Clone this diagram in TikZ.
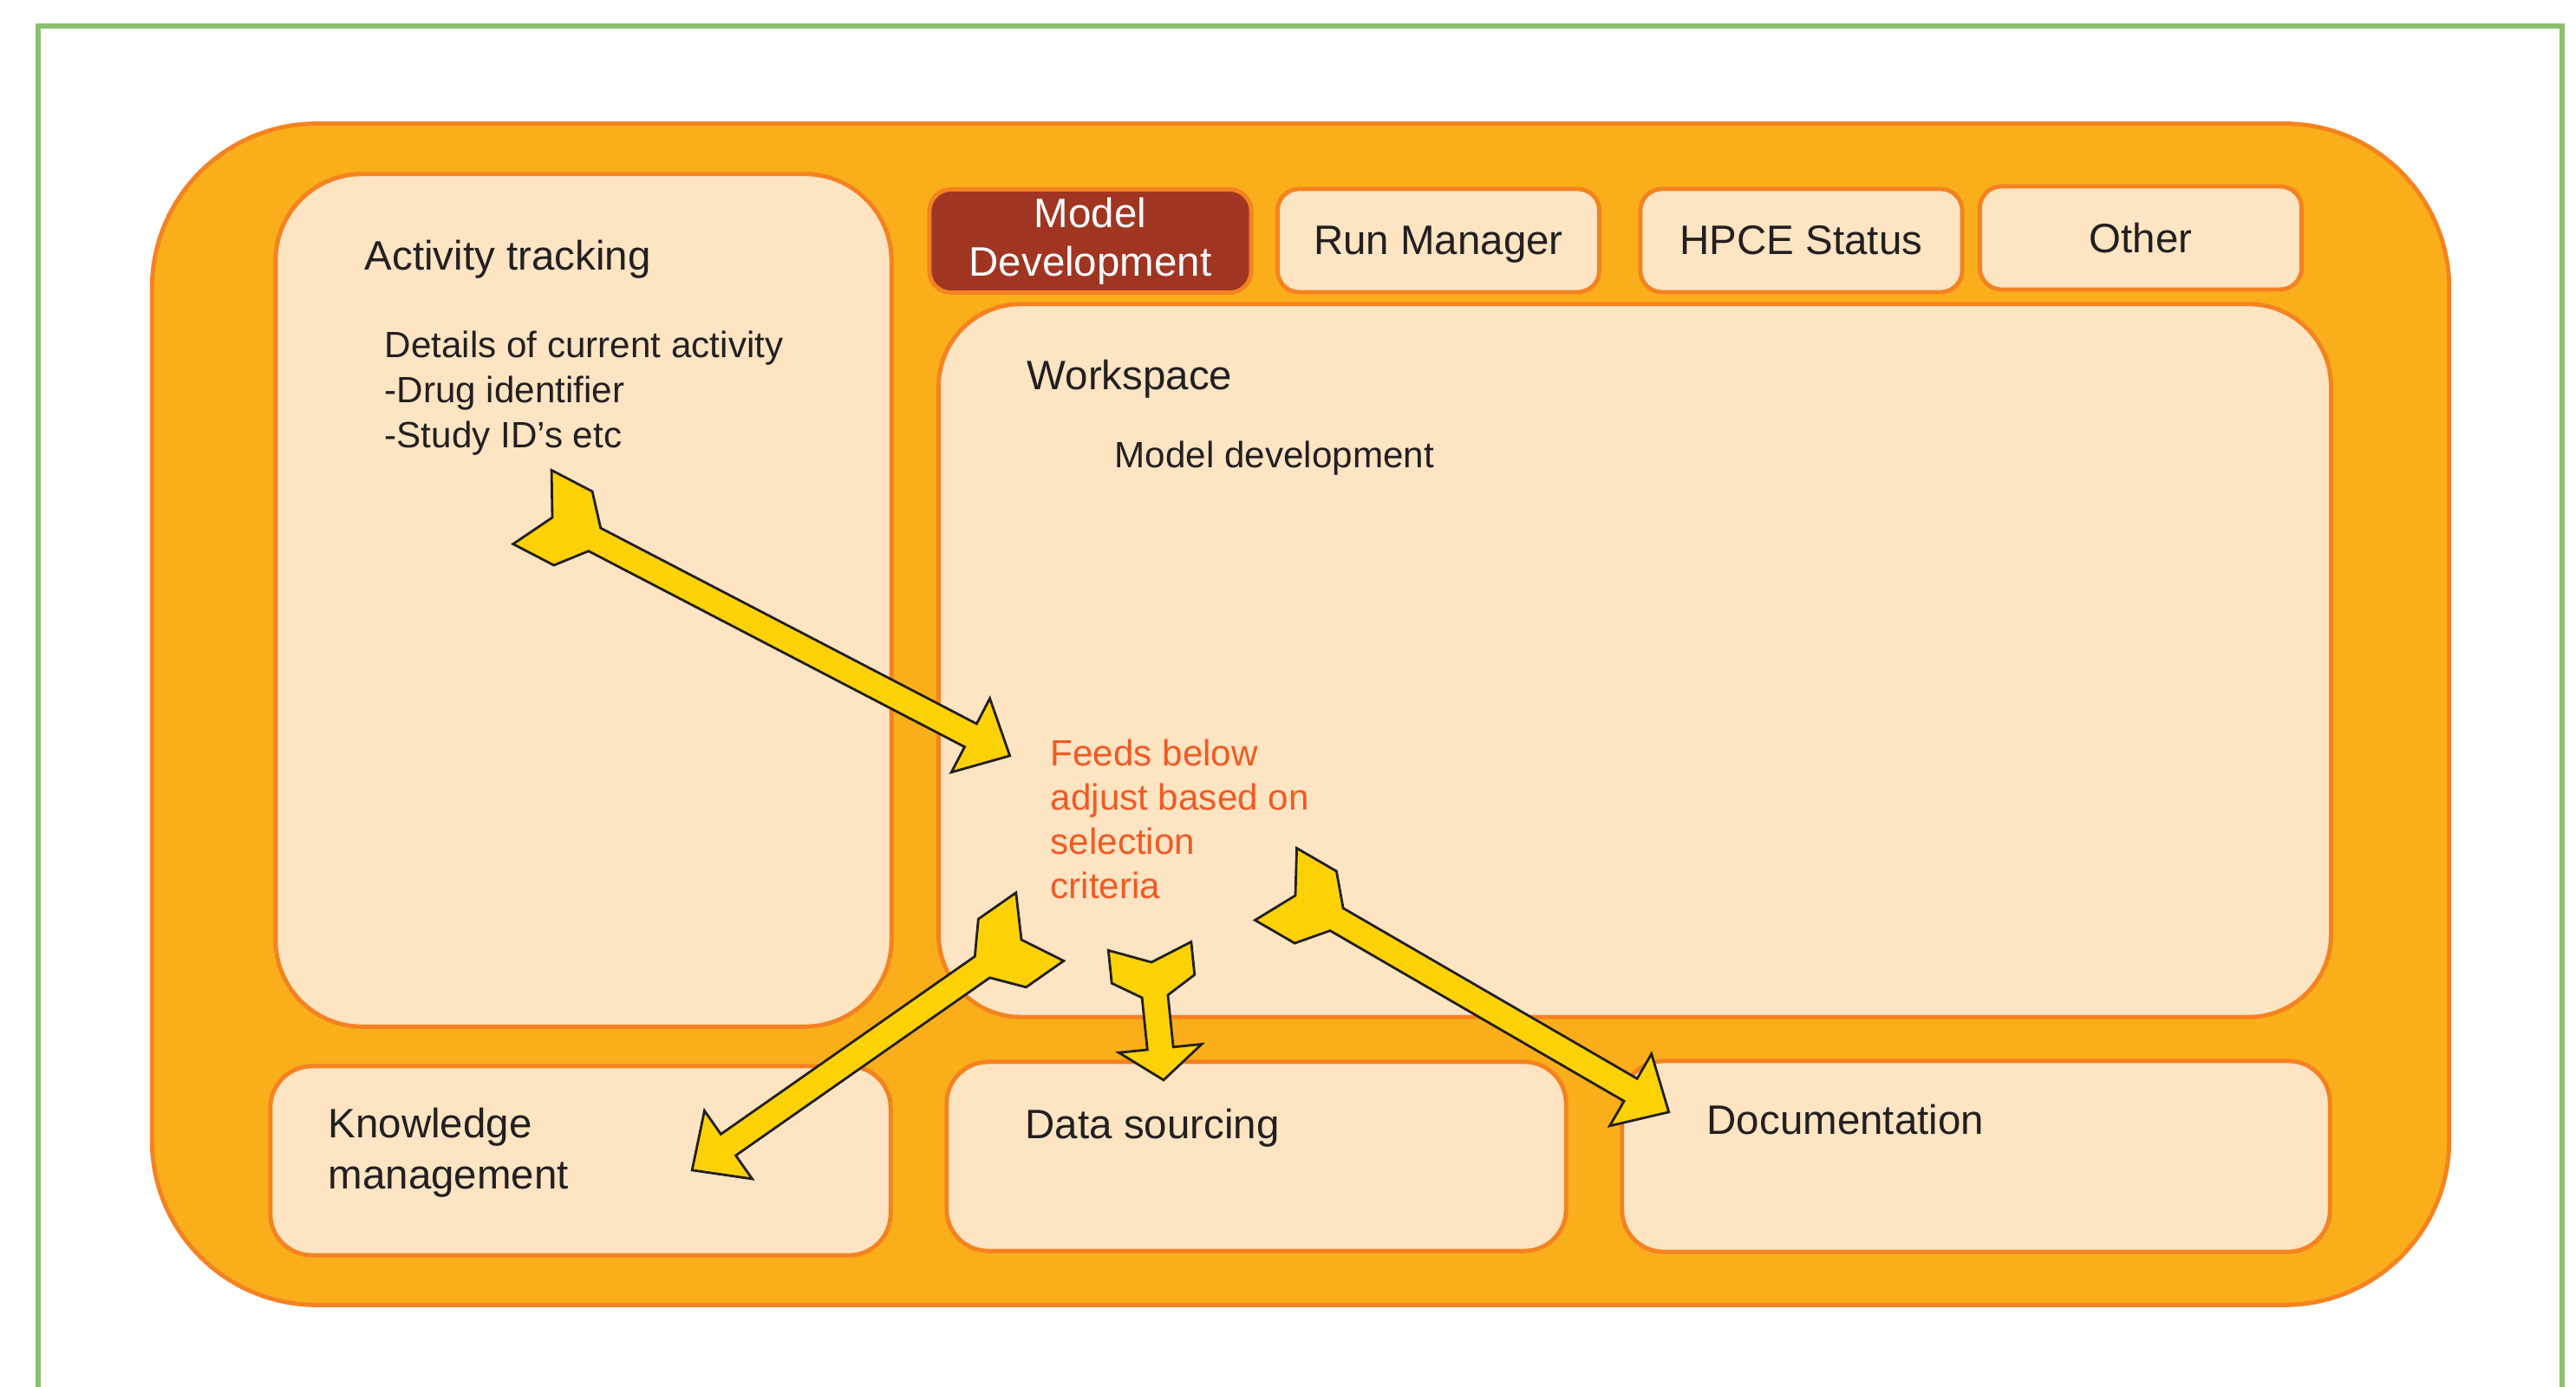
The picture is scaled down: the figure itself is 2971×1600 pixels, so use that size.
\documentclass[tikz,border=0pt]{standalone}
\usepackage{fontspec}
\setmainfont{Liberation Sans}
\usetikzlibrary{calc}

\definecolor{boxorange}{HTML}{F9AE1A}
\definecolor{lineorange}{HTML}{F58220}
\definecolor{peach}{HTML}{FDE4C2}
\definecolor{tabred}{HTML}{A03522}
\definecolor{arrowgold}{HTML}{FCD205}
\definecolor{framegreen}{HTML}{8DBF6F}
\definecolor{feedred}{HTML}{F15A24}
\definecolor{inkgrey}{HTML}{231F20}

\tikzset{
  panel/.style={draw=lineorange, line width=1.4pt, fill=peach, inner sep=0pt},
  tab/.style={panel, rounded corners=0.25cm, minimum width=3.71cm, minimum height=1.19cm,
    text=inkgrey, font=\fontsize{13.5}{15.9}\selectfont, align=center},
  label/.style={anchor=base west, inner sep=0pt, text=inkgrey,
    font=\fontsize{13.5}{16.5}\selectfont, align=left},
  note/.style={label, font=\fontsize{12}{14.9}\selectfont},
  fatarrow/.style={draw=inkgrey, line width=0.8pt, fill=arrowgold, line join=miter},
}

% block arrow with a forked tail, from #2 to #3 (#1 scales tail and head)
\newcommand{\blockarrow}[3][1]{%
  \pgfpointdiff{\pgfpointanchor{#2}{center}}{\pgfpointanchor{#3}{center}}%
  \pgfgetlastxy{\arrdx}{\arrdy}%
  \pgfmathsetmacro{\arrang}{atan2(\arrdy,\arrdx)}%
  \pgfmathsetmacro{\arrlen}{veclen(\arrdx,\arrdy)/0.284528}%
  \pgfmathsetmacro{\arrhead}{\arrlen-51*#1}%
  \draw[fatarrow, shift={(#2)}, rotate=\arrang, x=0.01cm, y=0.01cm]
    (0,0) -- (-26*#1,48) -- (27*#1,48) -- (55*#1,15) -- (\arrhead,15) -- (\arrhead,48)
    -- (\arrlen,0) -- (\arrhead,-48) -- (\arrhead,-15) -- (55*#1,-15)
    -- (27*#1,-48) -- (-26*#1,-48) -- cycle;
}

\begin{document}
\begin{tikzpicture}[x=0.01cm, y=-0.01cm]

\fill[white] (0,0) rectangle (2971,1600);
\useasboundingbox (0,0) rectangle (2971,1600);

% open green frame
\draw[framegreen, line width=1.5pt] (44,1600) -- (44,30) -- (2955,30) -- (2955,1600);

% outer panel
\node[panel, fill=boxorange, rounded corners=1.9cm, minimum width=26.48cm, minimum height=13.62cm] (frame) at (1500,824) {};

% left column
\node[panel, rounded corners=1cm, minimum width=7.10cm, minimum height=9.83cm] (act) at (673,692.5) {};

% tabs along the top
\node[tab, fill=tabred, text=white] (moddev) at (1257.5,278) {Model\\Development};
\node[tab, text depth=0pt] (runmgr) at (1659,277.5) {Run Manager};
\node[tab] (hpce) at (2077.5,277.5) {HPCE Status};
\node[tab] (other) at (2469,274.5) {Other};

% workspace
\node[panel, rounded corners=0.95cm, minimum width=16.05cm, minimum height=8.22cm] (ws) at (1885.5,762) {};

% bottom row
\node[panel, rounded corners=0.48cm, minimum width=7.15cm, minimum height=2.18cm] (km) at (669.5,1339) {};
\node[panel, rounded corners=0.48cm, minimum width=7.14cm, minimum height=2.18cm] (ds) at (1449,1334) {};
\node[panel, rounded corners=0.48cm, minimum width=8.16cm, minimum height=2.20cm] (doc) at (2279,1334) {};

% texts (multi-line ones sit on their last baseline)
\node[label] (acttitle) at (420,312) {Activity tracking};
\node[note] (actinfo) at (443,517) {Details of current activity\\-Drug identifier\\-Study ID’s etc};
\node[label] (wstitle) at (1184,449) {Workspace};
\node[note] (wsinfo) at (1285,539) {Model development};
\node[note, text=feedred, font=\fontsize{12}{14.5}\selectfont] (feeds) at (1211,1036) {Feeds below\\adjust based on\\selection\\criteria};
\node[label] (kmtitle) at (378,1371) {Knowledge\\management};
\node[label] (dstitle) at (1182,1313) {Data sourcing};
\node[label] (doctitle) at (1968,1308) {Documentation};

% arrow ends
\coordinate (actTail) at (637,597);
\coordinate (actTip) at (1165,872);
\coordinate (kmTail) at (1178,1084);
\coordinate (kmTip) at (798,1350);
\coordinate (dsTail) at (1328,1110);
\coordinate (dsTip) at (1342,1246);
\coordinate (docTail) at (1494,1033);
\coordinate (docTip) at (1925,1283);

\blockarrow{actTail}{actTip}
\blockarrow{kmTail}{kmTip}
\blockarrow[0.72]{dsTail}{dsTip}
\blockarrow{docTail}{docTip}

\end{tikzpicture}
\end{document}
